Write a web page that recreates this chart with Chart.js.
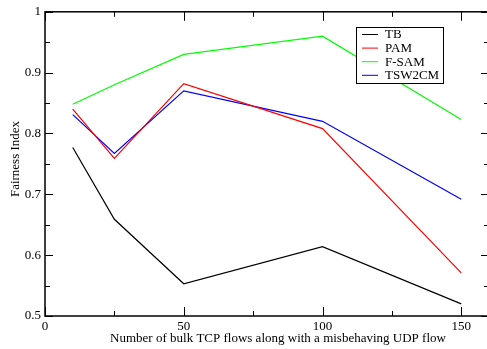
<!DOCTYPE html>
<html><head><meta charset="utf-8">
<script src="https://cdn.jsdelivr.net/npm/chart.js@4/dist/chart.umd.min.js"></script>
<style>
html,body{margin:0;padding:0;background:#fff;overflow:hidden;width:487px;height:349px}
canvas{display:block}
</style></head>
<body>
<canvas id="c" width="492" height="349" style="width:492px;height:349px"></canvas>
<script>
// Fairness index versus number of bulk TCP flows (one misbehaving UDP flow)
const flows  = [10, 25, 50, 100, 150];
const tb     = [0.777, 0.659, 0.553, 0.614, 0.520];
const pam    = [0.840, 0.759, 0.882, 0.808, 0.571];
const fsam   = [0.848, 0.880, 0.930, 0.960, 0.823];
const tsw2cm = [0.831, 0.767, 0.870, 0.820, 0.692];
const xTicks = [0, 50, 100, 150];
const xMinor = [25, 75, 125];
const yTicks = [0.5, 0.6, 0.7, 0.8, 0.9, 1];
const yMinor = [0.55, 0.65, 0.75, 0.85, 0.95];
const seriesNames = ['TB', 'PAM', 'F-SAM', 'TSW2CM'];
const seriesColors = ['#000000', '#ff0000', '#00ff00', '#0000ff'];
const xTitle = 'Number of bulk TCP flows along with a misbehaving UDP flow';
const yTitle = 'Fairness Index';

const FONT = '"Liberation Serif", "Times New Roman", serif';
const toPoints = arr => flows.map((x, i) => ({x, y: arr[i]}));
const seriesData = [tb, pam, fsam, tsw2cm];

const frame = {
  id: 'frame',
  afterDraw(chart) {
    const {ctx, chartArea: a, scales: {x, y}} = chart;
    ctx.save();
    ctx.strokeStyle = '#000';
    ctx.lineWidth = 1.5;
    ctx.strokeRect(a.left, a.top, a.right - a.left, a.bottom - a.top);
    ctx.lineWidth = 1;
    ctx.beginPath();
    const xt = (v, len) => {
      const px = Math.round(x.getPixelForValue(v)) + 0.5;
      ctx.moveTo(px, a.bottom); ctx.lineTo(px, a.bottom - len);
      ctx.moveTo(px, a.top); ctx.lineTo(px, a.top + len);
    };
    const yt = (v, len) => {
      const py = Math.round(y.getPixelForValue(v)) + 0.5;
      ctx.moveTo(a.left, py); ctx.lineTo(a.left + len, py);
      ctx.moveTo(a.right, py); ctx.lineTo(a.right - len, py);
    };
    xTicks.forEach(v => xt(v, 9));
    xMinor.forEach(v => xt(v, 5));
    yTicks.forEach(v => yt(v, 8));
    yMinor.forEach(v => yt(v, 5));
    ctx.stroke();

    // axis titles
    ctx.fillStyle = '#000';
    ctx.font = '13px ' + FONT;
    ctx.textAlign = 'center';
    ctx.textBaseline = 'middle';
    ctx.fillText(xTitle, 278, 339);
    ctx.save();
    ctx.translate(16, 159);
    ctx.rotate(-Math.PI / 2);
    ctx.fillText(yTitle, 0, 0);
    ctx.restore();

    // legend box
    const bx = 356, by = 27, bw = 87, bh = 56;
    ctx.fillStyle = '#fff';
    ctx.fillRect(bx, by, bw, bh);
    ctx.lineWidth = 1;
    ctx.strokeStyle = '#000';
    ctx.strokeRect(bx + 0.5, by + 0.5, bw, bh);
    ctx.font = '13px ' + FONT;
    ctx.textAlign = 'left';
    chart.data.datasets.forEach((ds, i) => {
      const ry = by + 7.5 + i * 13.6;
      ctx.strokeStyle = ds.borderColor;
      ctx.beginPath();
      ctx.moveTo(362, ry); ctx.lineTo(378, ry);
      ctx.stroke();
      ctx.fillStyle = '#000';
      ctx.fillText(ds.label, 385, ry + 0.5);
    });
    ctx.restore();
  }
};

new Chart(document.getElementById('c'), {
  type: 'line',
  data: {
    datasets: seriesNames.map((name, i) => ({
      label: name,
      data: toPoints(seriesData[i]),
      borderColor: seriesColors[i],
      backgroundColor: seriesColors[i],
      borderWidth: 1.2,
      pointRadius: 0,
      tension: 0,
      fill: false
    }))
  },
  options: {
    responsive: false,
    animation: false,
    devicePixelRatio: 1,
    layout: {padding: {top: 5, right: 3, left: 0, bottom: 0}},
    plugins: {legend: {display: false}, tooltip: {enabled: false}},
    scales: {
      x: {
        type: 'linear', min: 0, max: 160,
        afterBuildTicks: s => { s.ticks = xTicks.map(v => ({value: v})); },
        afterFit: s => { s.height = 33; },
        grid: {display: false, drawTicks: false},
        border: {display: false},
        ticks: {color: '#000', font: {family: FONT, size: 13}, padding: 3, maxRotation: 0}
      },
      y: {
        type: 'linear', min: 0.5, max: 1,
        afterBuildTicks: s => { s.ticks = yTicks.map(v => ({value: v})); },
        afterFit: s => { s.width = 45; },
        grid: {display: false, drawTicks: false},
        border: {display: false},
        ticks: {
          color: '#000', font: {family: FONT, size: 13}, padding: 4,
          callback: v => (Math.abs(v - 1) < 1e-9 ? '1' : v.toFixed(1))
        }
      }
    }
  },
  plugins: [frame]
});
</script>
</body></html>
